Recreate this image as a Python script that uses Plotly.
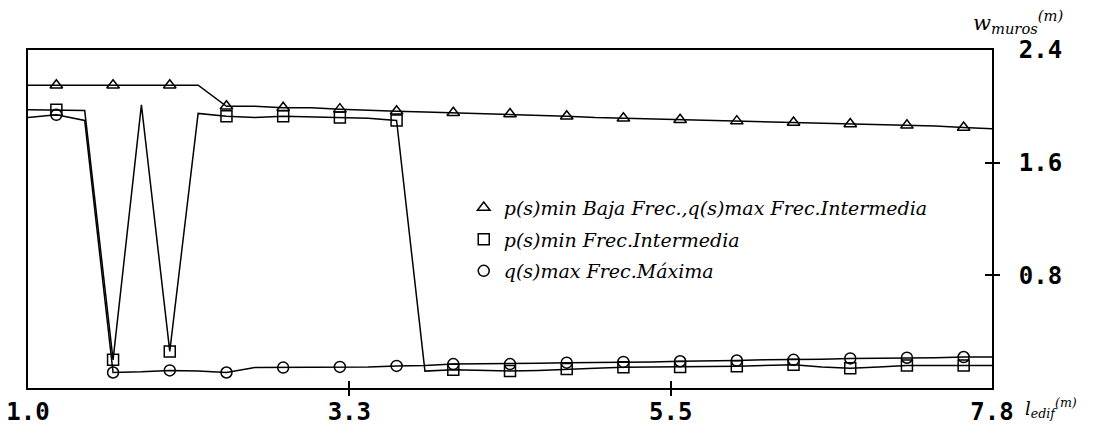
import plotly.graph_objects as go

# building length l_edif (m)
x = [1.0, 1.2, 1.4, 1.6, 1.8, 2.0, 2.2, 2.4, 2.6, 2.8, 3.0, 3.2, 3.4, 3.6, 3.8,
     4.0, 4.2, 4.4, 4.6, 4.8, 5.0, 5.2, 5.4, 5.6, 5.8, 6.0, 6.2, 6.4, 6.6, 6.8,
     7.0, 7.2, 7.4, 7.6, 7.8]

# w_muros (m)
tri = [2.15, 2.15, 2.15, 2.15, 2.15, 2.15, 2.15, 2.00, 2.00, 1.99, 1.99, 1.98, 1.97, 1.965, 1.96,
       1.955, 1.95, 1.945, 1.935, 1.93, 1.92, 1.915, 1.91, 1.905, 1.90, 1.895, 1.89, 1.885, 1.88, 1.875,
       1.87, 1.865, 1.86, 1.85, 1.84]
sq = [1.975, 1.975, 1.97, 0.20, 2.01, 0.26, 1.95, 1.93, 1.92, 1.93, 1.925, 1.92, 1.915, 1.90, 0.12,
      0.13, 0.125, 0.12, 0.125, 0.135, 0.14, 0.148, 0.148, 0.15, 0.152, 0.155, 0.16, 0.165, 0.15, 0.14,
      0.15, 0.16, 0.16, 0.16, 0.16]
circ = [1.92, 1.94, 1.90, 0.11, 0.115, 0.125, 0.12, 0.11, 0.145, 0.145, 0.145, 0.15, 0.15, 0.157, 0.16,
        0.17, 0.17, 0.17, 0.175, 0.18, 0.18, 0.185, 0.185, 0.19, 0.19, 0.195, 0.20, 0.20, 0.205, 0.21,
        0.21, 0.215, 0.215, 0.22, 0.22]

names = ["p(s)min Baja Frec.,q(s)max Frec.Intermedia",
         "p(s)min Frec.Intermedia",
         "q(s)max Frec.Máxima"]
symbols = ["triangle-up-open", "square-open", "circle-open"]
msizes = [11, 11, 11]

x_ticks = [1.0, 3.2667, 5.5333, 7.8]
x_ticktext = ["1.0", "3.3", "5.5", "7.8"]
y_ticks = [0.8, 1.6, 2.4]
y_ticktext = ["0.8", "1.6", "2.4"]

# which overlay axes carry each series' line (so the tick-only axes get drawn)
line_axes = [("x", "y"), ("x2", "y2"), ("x3", "y3")]

fig = go.Figure()
for i, (ys, nm, sym, ms) in enumerate(zip([tri, sq, circ], names, symbols, msizes)):
    xa, ya = line_axes[i]
    fig.add_trace(go.Scatter(x=x, y=ys, mode="lines", xaxis=xa, yaxis=ya,
                             line=dict(color="black", width=1.5),
                             showlegend=False, hoverinfo="skip"))
for i, (ys, nm, sym, ms) in enumerate(zip([tri, sq, circ], names, symbols, msizes)):
    fig.add_trace(go.Scatter(x=x[1::2], y=ys[1::2], mode="markers", name=nm,
                             legendgroup=f"g{i}",
                             marker=dict(symbol=sym, size=ms, color="black",
                                         line=dict(width=1.5, color="black"))))

tickfont = dict(family="DejaVu Sans Mono", size=24, color="black", weight="bold")
hidden = dict(showticklabels=False, showline=False, showgrid=False, zeroline=False,
              automargin=False, tickcolor="black", tickwidth=2, ticklen=7)

fig.update_layout(
    width=1103, height=433,
    margin=dict(l=28, r=111, t=50, b=45, autoexpand=False),
    paper_bgcolor="white", plot_bgcolor="white",
    font=dict(family="DejaVu Serif", color="black"),
    showlegend=True,
    legend=dict(x=0.452, y=0.59, xanchor="left", yanchor="top",
                bgcolor="rgba(0,0,0,0)", borderwidth=0,
                font=dict(family="DejaVu Serif", size=19, style="italic", color="black"),
                itemwidth=30, tracegroupgap=4),
    xaxis=dict(range=[1.0, 7.8], tickvals=x_ticks, ticktext=x_ticktext, ticks="",
               showline=True, linecolor="black", linewidth=2, mirror=True, automargin=False,
               showgrid=False, zeroline=False, tickfont=tickfont, ticklabelstandoff=1),
    xaxis2=dict(range=[1.0, 7.8], overlaying="x", anchor="y", side="bottom",
                tickvals=x_ticks[1:3], ticks="outside", **hidden),
    xaxis3=dict(range=[1.0, 7.8], overlaying="x", anchor="y", side="bottom",
                tickvals=x_ticks[1:3], ticks="inside", **hidden),
    yaxis=dict(range=[0, 2.4], side="right", tickvals=y_ticks, ticktext=y_ticktext, ticks="",
               showline=True, linecolor="black", linewidth=2, mirror=True, automargin=False,
               showgrid=False, zeroline=False, tickfont=tickfont, ticklabelstandoff=20),
    yaxis2=dict(range=[0, 2.4], overlaying="y", anchor="x", side="right",
                tickvals=y_ticks[:2], ticks="outside", **hidden),
    yaxis3=dict(range=[0, 2.4], overlaying="y", anchor="x", side="right",
                tickvals=y_ticks[:2], ticks="inside", **hidden),
)

fig.add_annotation(text="<i>w<sub>muros</sub><sup>(m)</sup></i>", xref="paper", yref="paper",
                   x=1.0757, y=1.083, xanchor="right", yanchor="middle", showarrow=False,
                   font=dict(family="DejaVu Serif", size=21, color="black"))
fig.add_annotation(text="<i>l<sub>edif</sub><sup>(m)</sup></i>", xref="paper", yref="paper",
                   x=1.09, y=-0.06, xanchor="right", yanchor="middle", showarrow=False,
                   font=dict(family="DejaVu Serif", size=18, color="black"))

fig.write_html("out.html", config={"displayModeBar": False},
               post_script="document.body.style.margin='0';")
